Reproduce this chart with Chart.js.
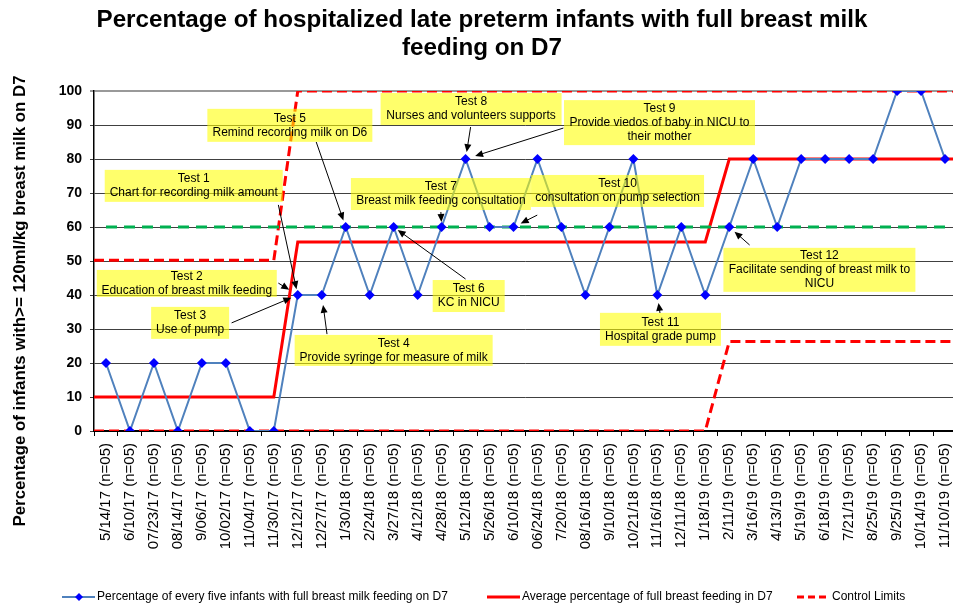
<!DOCTYPE html>
<html>
<head>
<meta charset="utf-8">
<script src="https://cdn.jsdelivr.net/npm/chart.js@4.4.0/dist/chart.umd.min.js"></script>
<style>
  html, body { margin: 0; padding: 0; background: #fff; overflow: hidden; }
  #wrap { width: 953px; height: 606px; overflow: hidden; }
</style>
</head>
<body>
<div id="wrap"><canvas id="chart" width="962" height="606"></canvas></div>
<script>
const dates = ['5/14/17', '6/10/17', '07/23/17', '08/14/17', '9/06/17', '10/02/17', '11/04/17', '11/30/17',
  '12/12/17', '12/27/17', '1/30/18', '2/24/18', '3/27/18', '4/12/18', '4/28/18', '5/12/18', '5/26/18',
  '6/10/18', '06/24/18', '7/20/18', '08/16/18', '9/10/18', '10/21/18', '11/16/18', '12/11/18', '1/18/19',
  '2/11/19', '3/16/19', '4/13/19', '5/19/19', '6/18/19', '7/21/19', '8/25/19', '9/25/19', '10/14/19', '11/10/19'];
const sampleSize = '(n=05)';
const percentFull = [20, 0, 20, 0, 20, 20, 0, 0,
  40, 40, 60, 40, 60, 40, 60, 80, 60, 60, 80, 60, 40, 60, 80, 40, 60, 40,
  60, 80, 60, 80, 80, 80, 80, 100, 100, 80];

// phases of the p-chart: last index of each phase, centre line and limits
const phaseEnds = [7, 25, 35];
const phaseMean = [10, 55.6, 80];
const phaseUpper = [50.2, 100, 100];
const phaseLower = [0, 0, 26.3];
const targetLevel = 60;

const titleLines = ['Percentage of hospitalized late preterm infants with full breast milk', 'feeding on D7'];
const yTitle = 'Percentage of infants with>= 120ml/kg breast milk on D7';
const legendNames = ['Percentage of every five infants with full breast milk feeding on D7',
  'Average percentage of full breast feeding in D7', 'Control Limits'];

// yellow notes: centre in (index, value), size in px, arrow from a spot to a data point
const notes = [
  { lines: ['Test 1', 'Chart for recording milk amount'], x: 3.66, y: 72.1, w: 178, h: 32, from: [7.19, 66.5], to: 8, gap: 6 },
  { lines: ['Test 2', 'Education of breast milk feeding'], x: 3.37, y: 43.4, w: 180, h: 27, from: [7.19, 43.5], to: 8, gap: 10 },
  { lines: ['Test 3', 'Use of pump'], x: 3.51, y: 31.8, w: 78, h: 32, from: [5.24, 31.8], to: 8, gap: 7 },
  { lines: ['Test 4', 'Provide syringe for measure of milk'], x: 12.0, y: 23.7, w: 198, h: 31, from: [9.22, 28.5], to: 9, gap: 10 },
  { lines: ['Test 5', 'Remind recording milk on D6'], x: 7.67, y: 89.9, w: 165, h: 33, from: [8.77, 85.0], to: 10, gap: 7 },
  { lines: ['Test 6', 'KC in NICU'], x: 15.13, y: 39.7, w: 72, h: 32, from: [15.0, 44.7], to: 12, gap: 5 },
  { lines: ['Test 7', 'Breast milk feeding consultation'], x: 13.97, y: 69.7, w: 180, h: 32, from: [13.97, 64.4], to: 14, gap: 5 },
  { lines: ['Test 8', 'Nurses and volunteers supports'], x: 15.23, y: 94.7, w: 181, h: 32, from: [15.21, 89.4], to: 15, gap: 7 },
  { lines: ['Test 9', 'Provide viedos of baby in NICU to', 'their mother'], x: 23.09, y: 90.7, w: 191, h: 45, from: [19.08, 89.1], to: 15, gap: 10 },
  { lines: ['Test 10', 'consultation on pump selection'], x: 21.34, y: 70.6, w: 173, h: 32, from: [17.99, 63.5], to: 17, gap: 8 },
  { lines: ['Test 11', 'Hospital grade pump'], x: 23.13, y: 29.9, w: 121, h: 33, from: [23.11, 34.7], to: 23, gap: 8 },
  { lines: ['Test 12', 'Facilitate sending of breast milk to', 'NICU'], x: 29.76, y: 47.4, w: 192, h: 44, from: [26.85, 54.7], to: 26, gap: 7 }
];

const FONT = "'Liberation Sans', Arial, sans-serif";

function stepPoints(values) {
  const pts = [];
  let start = 0;
  phaseEnds.forEach((end, p) => {
    pts.push({ x: start === 0 ? -0.5 : start, y: values[p] });
    pts.push({ x: end === dates.length - 1 ? end + 0.5 : end, y: values[p] });
    start = end + 1;
  });
  return pts;
}

function arrow(ctx, x1, y1, x2, y2) {
  const a = Math.atan2(y2 - y1, x2 - x1);
  ctx.beginPath();
  ctx.moveTo(x1, y1);
  ctx.lineTo(x2 - 5 * Math.cos(a), y2 - 5 * Math.sin(a));
  ctx.stroke();
  ctx.beginPath();
  ctx.moveTo(x2, y2);
  ctx.lineTo(x2 - 8 * Math.cos(a) + 3.5 * Math.sin(a), y2 - 8 * Math.sin(a) - 3.5 * Math.cos(a));
  ctx.lineTo(x2 - 8 * Math.cos(a) - 3.5 * Math.sin(a), y2 - 8 * Math.sin(a) + 3.5 * Math.cos(a));
  ctx.closePath();
  ctx.fill();
}

// draw text squeezed horizontally like a narrow font
function narrowText(ctx, text, x, y, squeeze) {
  ctx.save();
  ctx.translate(x, y);
  ctx.scale(squeeze, 1);
  ctx.fillText(text, 0, 0);
  ctx.restore();
}

const extras = {
  id: 'extras',
  afterDatasetsDraw(chart) {
    const ctx = chart.ctx;
    const xs = chart.scales.x2, ys = chart.scales.y;
    ctx.save();
    notes.forEach(n => {
      const cx = xs.getPixelForValue(n.x), cy = ys.getPixelForValue(n.y);
      ctx.fillStyle = 'rgba(255,255,0,0.58)';
      ctx.fillRect(cx - n.w / 2, cy - n.h / 2, n.w, n.h);
      ctx.fillStyle = '#000';
      ctx.font = '12px ' + FONT;
      ctx.textAlign = 'center';
      ctx.textBaseline = 'middle';
      n.lines.forEach((t, i) => {
        ctx.fillText(t, cx, cy + (i - (n.lines.length - 1) / 2) * 14);
      });
      const fx = xs.getPixelForValue(n.from[0]), fy = ys.getPixelForValue(n.from[1]);
      const px = xs.getPixelForValue(n.to), py = ys.getPixelForValue(percentFull[n.to]);
      const len = Math.hypot(px - fx, py - fy);
      const tx = px - (px - fx) / len * n.gap, ty = py - (py - fy) / len * n.gap;
      ctx.strokeStyle = '#000';
      ctx.lineWidth = 1;
      arrow(ctx, fx, fy, tx, ty);
    });
    ctx.restore();
  },
  afterDraw(chart) {
    const ctx = chart.ctx;
    ctx.save();
    ctx.fillStyle = '#000';
    ctx.textAlign = 'center';
    ctx.textBaseline = 'middle';
    ctx.font = 'bold 24px ' + FONT;
    const sq = 771 / ctx.measureText(titleLines[0]).width;
    narrowText(ctx, titleLines[0], 482, 20, sq);
    narrowText(ctx, titleLines[1], 482, 48, sq);

    ctx.save();
    ctx.translate(20, 301);
    ctx.rotate(-Math.PI / 2);
    ctx.font = 'bold 17px ' + FONT;
    const sy = 451 / ctx.measureText(yTitle).width;
    ctx.scale(sy, 1);
    ctx.fillText(yTitle, 0, 0);
    ctx.restore();

    // legend
    const ly = 597;
    ctx.textAlign = 'left';
    ctx.font = '12px ' + FONT;
    ctx.strokeStyle = '#4F81BD';
    ctx.lineWidth = 2;
    ctx.beginPath(); ctx.moveTo(62, ly); ctx.lineTo(95, ly); ctx.stroke();
    ctx.fillStyle = '#0000FF';
    ctx.beginPath();
    ctx.moveTo(79, ly - 4); ctx.lineTo(83, ly); ctx.lineTo(79, ly + 4); ctx.lineTo(75, ly);
    ctx.closePath(); ctx.fill();
    ctx.fillStyle = '#000';
    ctx.fillText(legendNames[0], 97, ly, 381);

    ctx.strokeStyle = '#FF0000';
    ctx.lineWidth = 3;
    ctx.beginPath(); ctx.moveTo(487, ly); ctx.lineTo(520, ly); ctx.stroke();
    ctx.fillText(legendNames[1], 522, ly, 255);

    ctx.setLineDash([7, 4]);
    ctx.beginPath(); ctx.moveTo(797, ly); ctx.lineTo(830, ly); ctx.stroke();
    ctx.setLineDash([]);
    ctx.fillText(legendNames[2], 832, ly, 92);
    ctx.restore();
  }
};

new Chart(document.getElementById('chart'), {
  type: 'line',
  data: {
    labels: dates.map(d => d + ' ' + sampleSize),
    datasets: [
      {
        label: legendNames[0],
        data: percentFull,
        xAxisID: 'x',
        borderColor: '#4F81BD',
        borderWidth: 2,
        pointStyle: 'rectRot',
        pointRadius: 5,
        pointBackgroundColor: '#0000FF',
        pointBorderColor: '#0000FF',
        pointBorderWidth: 0
      },
      {
        label: 'target',
        data: dates.map(() => targetLevel),
        xAxisID: 'x',
        borderColor: '#00B050',
        borderWidth: 3,
        borderDash: [11, 7],
        pointRadius: 0
      },
      {
        label: legendNames[1],
        data: stepPoints(phaseMean),
        xAxisID: 'x2',
        borderColor: '#FF0000',
        borderWidth: 3,
        pointRadius: 0
      },
      {
        label: legendNames[2],
        data: stepPoints(phaseUpper),
        xAxisID: 'x2',
        borderColor: '#FF0000',
        borderWidth: 3,
        borderDash: [10, 5],
        pointRadius: 0
      },
      {
        label: legendNames[2],
        data: stepPoints(phaseLower),
        xAxisID: 'x2',
        borderColor: '#FF0000',
        borderWidth: 3,
        borderDash: [10, 5],
        pointRadius: 0
      }
    ]
  },
  options: {
    responsive: false,
    animation: false,
    devicePixelRatio: 1,
    layout: { padding: { left: 0, right: 2, top: 91, bottom: 0 } },
    plugins: { legend: { display: false }, tooltip: { enabled: false } },
    scales: {
      x: {
        type: 'category',
        offset: true,
        afterFit(s) { s.height = 175; s.paddingLeft = 0; s.paddingRight = 0; },
        grid: { offset: true, drawOnChartArea: false, tickLength: 5, color: '#000' },
        border: { color: '#000', width: 2 },
        ticks: {
          autoSkip: false, minRotation: 90, maxRotation: 90, padding: 7,
          color: '#000', font: { family: FONT, size: 15 }
        }
      },
      x2: {
        type: 'linear',
        display: false,
        min: -0.5,
        max: dates.length - 0.5
      },
      y: {
        min: 0,
        max: 100,
        afterFit(s) { s.width = 94; },
        border: { color: '#000', width: 1.5 },
        grid: {
          tickLength: 4,
          color: c => c.tick && c.tick.value === 100 ? '#999' : '#404040',
          lineWidth: c => c.tick && c.tick.value === 100 ? 2 : 1
        },
        ticks: {
          stepSize: 10, padding: 8, color: '#000',
          font: { family: FONT, size: 14, weight: 'bold' }
        }
      }
    }
  },
  plugins: [extras]
});
</script>
</body>
</html>
